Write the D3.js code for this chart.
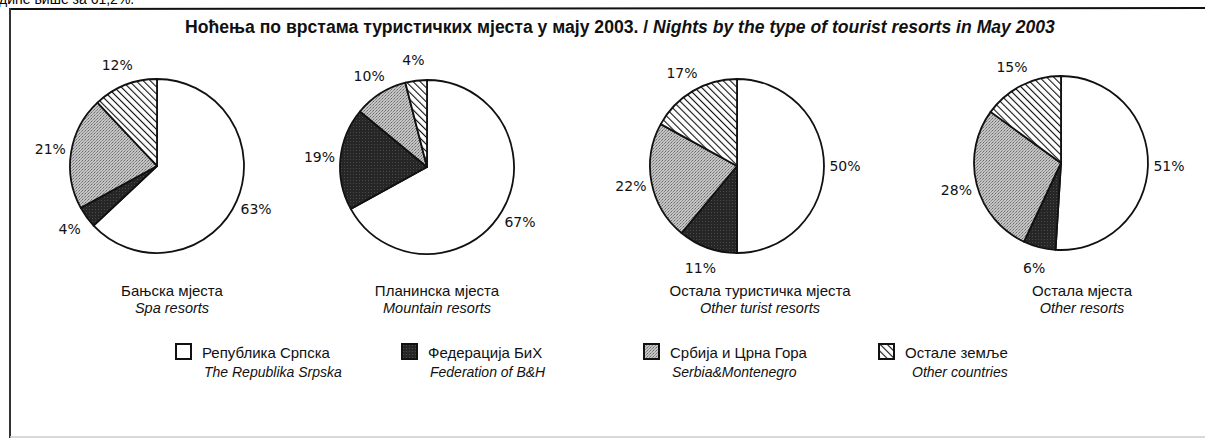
<!DOCTYPE html>
<html>
<head>
<meta charset="utf-8">
<script src="https://cdn.jsdelivr.net/npm/d3@7"></script>
<style>
  body { margin: 0; background: #fff; }
  svg { display: block; }
</style>
</head>
<body>
<script>
// categories (legend order = slice order, clockwise from 12 o'clock)
const categories   = ["rs", "fbih", "scg", "other"]
const legendCyr    = ["Република Српска", "Федерација БиХ", "Србија и Црна Гора", "Остале земље"]
const legendLat    = ["The Republika Srpska", "Federation of B&H", "Serbia&Montenegro", "Other countries"]

// one pie per resort type
const resortCyr    = ["Бањска мјеста", "Планинска мјеста", "Остала туристичка мјеста", "Остала мјеста"]
const resortLat    = ["Spa resorts", "Mountain resorts", "Other turist resorts", "Other resorts"]
const spaValues      = [63, 4, 21, 12]
const mountainValues = [67, 19, 10, 4]
const touristValues  = [50, 11, 22, 17]
const otherValues    = [51, 6, 28, 15]

const width = 1205, height = 438

const svg = d3.select("body").append("svg")
    .attr("width", width)
    .attr("height", height)

// fill patterns
const defs = svg.append("defs")
const dots = defs.append("pattern").attr("id", "dots")
    .attr("width", 3).attr("height", 3).attr("patternUnits", "userSpaceOnUse")
dots.append("rect").attr("width", 3).attr("height", 3).attr("fill", "#c4c4c4")
dots.append("rect").attr("x", 0).attr("y", 0).attr("width", 1).attr("height", 1).attr("fill", "#6a6a6a")
dots.append("rect").attr("x", 2).attr("y", 1).attr("width", 1).attr("height", 1).attr("fill", "#8a8a8a")
dots.append("rect").attr("x", 1).attr("y", 2).attr("width", 1).attr("height", 1).attr("fill", "#989898")

const dark = defs.append("pattern").attr("id", "dark")
    .attr("width", 3).attr("height", 3).attr("patternUnits", "userSpaceOnUse")
dark.append("rect").attr("width", 3).attr("height", 3).attr("fill", "#262626")
dark.append("rect").attr("x", 1).attr("y", 1).attr("width", 1).attr("height", 1).attr("fill", "#4a4a4a")

const hatch = defs.append("pattern").attr("id", "hatch")
    .attr("width", 5).attr("height", 5).attr("patternUnits", "userSpaceOnUse")
    .attr("patternTransform", "rotate(-45)")
hatch.append("rect").attr("width", 5).attr("height", 5).attr("fill", "#fff")
hatch.append("line").attr("x1", 0).attr("y1", 0).attr("x2", 0).attr("y2", 5)
    .attr("stroke", "#111").attr("stroke-width", 2.2)

const fills = {rs: "#fff", fbih: "url(#dark)", scg: "url(#dots)", other: "url(#hatch)"}

// clipped text above the frame
svg.append("text")
    .attr("x", -1).attr("y", 4)
    .style("font-family", "Liberation Sans, Arial, sans-serif")
    .style("font-size", "14px")
    .text("дине више за 61,2%.")

// frame
svg.append("line").attr("x1", 10).attr("y1", 9).attr("x2", width).attr("y2", 8)
    .attr("stroke", "#111").attr("stroke-width", 2)
svg.append("line").attr("x1", 10).attr("y1", 8).attr("x2", 10).attr("y2", height)
    .attr("stroke", "#333").attr("stroke-width", 2)
svg.append("line").attr("x1", 10).attr("y1", 437).attr("x2", width).attr("y2", 437)
    .attr("stroke", "#ccc").attr("stroke-width", 1.5)

// title
const title = svg.append("text")
    .attr("x", 620).attr("y", 33)
    .attr("text-anchor", "middle")
    .style("font-family", "Liberation Sans, Arial, sans-serif")
    .style("font-size", "17.6px")
    .style("font-weight", "bold")
    .style("fill", "#111")
title.append("tspan").text("Ноћења по врстама туристичких мјеста у мају 2003.  / ")
title.append("tspan").style("font-style", "italic").text("Nights by the type of tourist resorts in May  2003")

// pies
const pieData = [spaValues, mountainValues, touristValues, otherValues]
const centers = [[157, 166], [427, 167], [737, 166], [1061, 163]]
const labelCenters = [172, 437, 760, 1082]
const radius = 87

const pie = d3.pie().sort(null).value(d => d.value)
const arc = d3.arc().innerRadius(0).outerRadius(radius)
const labelArc = d3.arc().innerRadius(108).outerRadius(108)

pieData.forEach((vals, i) => {
    const data = vals.map((v, j) => ({key: categories[j], value: v}))
    const g = svg.append("g").attr("transform", `translate(${centers[i][0]}, ${centers[i][1]})`)

    g.selectAll("path")
        .data(pie(data))
        .enter()
        .append("path")
        .attr("d", arc)
        .attr("fill", d => fills[d.data.key])
        .attr("stroke", "#111")
        .attr("stroke-width", 1.8)
        .attr("stroke-linejoin", "round")

    g.selectAll("text")
        .data(pie(data))
        .enter()
        .append("text")
        .attr("transform", d => `translate(${labelArc.centroid(d)})`)
        .attr("text-anchor", "middle")
        .attr("dy", "0.35em")
        .style("font-family", "DejaVu Sans, Verdana, sans-serif")
        .style("font-size", "14px")
        .style("fill", "#111")
        .text(d => d.data.value + "%")

    svg.append("text")
        .attr("x", labelCenters[i]).attr("y", 296)
        .attr("text-anchor", "middle")
        .style("font-family", "Liberation Sans, Arial, sans-serif")
        .style("font-size", "15px")
        .style("fill", "#111")
        .text(resortCyr[i])
    svg.append("text")
        .attr("x", labelCenters[i]).attr("y", 313)
        .attr("text-anchor", "middle")
        .style("font-family", "Liberation Sans, Arial, sans-serif")
        .style("font-size", "14.5px")
        .style("font-style", "italic")
        .style("fill", "#111")
        .text(resortLat[i])
})

// legend
const legendX = [176, 402, 644, 879]
const legend = svg.selectAll("g.legend")
    .data(categories)
    .enter()
    .append("g")
    .attr("class", "legend")
    .attr("transform", (d, i) => `translate(${legendX[i]}, 344)`)

legend.append("rect")
    .attr("width", 15).attr("height", 15)
    .attr("fill", d => fills[d])
    .attr("stroke", "#111")
    .attr("stroke-width", 2)

legend.append("text")
    .attr("x", 26).attr("y", 14)
    .style("font-family", "Liberation Sans, Arial, sans-serif")
    .style("font-size", "15px")
    .style("fill", "#111")
    .text((d, i) => legendCyr[i])

legend.append("text")
    .attr("x", (d, i) => i === 3 ? 33 : 28).attr("y", 33)
    .style("font-family", "Liberation Sans, Arial, sans-serif")
    .style("font-size", "14px")
    .style("font-style", "italic")
    .style("fill", "#111")
    .text((d, i) => legendLat[i])
</script>
</body>
</html>
